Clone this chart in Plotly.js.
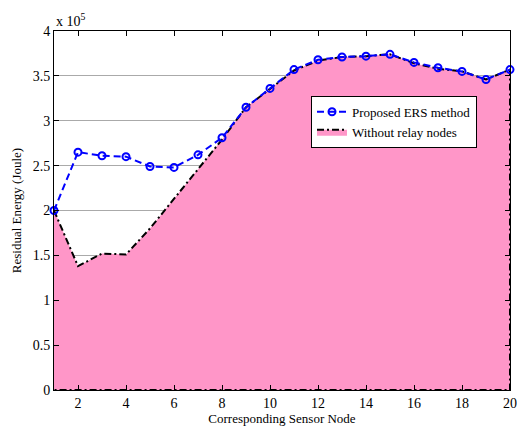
<!DOCTYPE html>
<html>
<head>
<meta charset="utf-8">
<script src="https://cdn.plot.ly/plotly-3.0.1.min.js"></script>
<style>html,body{margin:0;padding:0;background:#fff;}#chart{width:517px;height:428px;}</style>
</head>
<body>
<div id="chart"></div>
<script>
const nodes = [1,2,3,4,5,6,7,8,9,10,11,12,13,14,15,16,17,18,19,20];
const proposedERS = [2.00,2.65,2.61,2.60,2.49,2.48,2.62,2.81,3.15,3.36,3.57,3.68,3.71,3.72,3.74,3.65,3.59,3.55,3.46,3.57];
const withoutRelay = [2.00,1.38,1.52,1.51,1.80,2.13,2.47,2.79,3.15,3.36,3.56,3.67,3.71,3.72,3.74,3.64,3.58,3.55,3.46,3.57];
const yTicks = [0,0.5,1,1.5,2,2.5,3,3.5,4];
const xTicks = [2,4,6,8,10,12,14,16,18,20];

const areaX = nodes.concat([nodes[nodes.length-1], nodes[0]]);
const areaY = withoutRelay.concat([0, 0]);

const serif = 'Liberation Serif, Times New Roman, serif';

const data = [
  {
    x: areaX, y: areaY, type: 'scatter', mode: 'lines',
    fill: 'toself', fillcolor: '#FF96C8',
    line: {color: 'black', width: 2, dash: '7px,3px,2px,3px'},
    name: 'Without relay nodes', legendrank: 2, cliponaxis: false
  },
  {
    x: nodes, y: proposedERS, type: 'scatter', mode: 'lines+markers',
    line: {color: 'blue', width: 2, dash: '7px,4px'},
    marker: {symbol: 'circle-open', size: 7, color: 'blue', line: {width: 2, color: 'blue'}},
    name: 'Proposed ERS method', legendrank: 1, cliponaxis: false
  }
];

const layout = {
  width: 517, height: 428,
  margin: {l: 54, r: 7, t: 31, b: 38},
  paper_bgcolor: 'white', plot_bgcolor: 'white',
  font: {family: serif, color: 'black', size: 14},
  showlegend: true,
  legend: {
    x: 0.5636, y: 0.8194, xanchor: 'left', yanchor: 'top',
    bgcolor: 'white', bordercolor: 'black', borderwidth: 1,
    font: {family: serif, size: 13, color: 'black'},
    tracegroupgap: 0, itemwidth: 30
  },
  xaxis: {
    range: [1, 20], tickvals: xTicks, ticktext: xTicks.map(String),
    showgrid: false, zeroline: false,
    showline: true, linecolor: 'black', linewidth: 1, mirror: 'ticks',
    ticks: 'inside', ticklen: 5, tickcolor: 'black',
    tickfont: {family: serif, size: 14},
    title: {text: 'Corresponding Sensor Node', font: {family: serif, size: 13}, standoff: 2}
  },
  yaxis: {
    range: [0, 4], tickvals: yTicks, ticktext: yTicks.map(String),
    showgrid: true, gridcolor: '#aaaaaa', gridwidth: 1, zeroline: false,
    showline: true, linecolor: 'black', linewidth: 1, mirror: 'ticks',
    ticks: 'inside', ticklen: 5, tickcolor: 'black',
    tickfont: {family: serif, size: 14},
    title: {text: 'Residual Energy (Joule)', font: {family: serif, size: 13}, standoff: 8}
  },
  annotations: [{
    xref: 'paper', yref: 'paper', x: 0, y: 1, xanchor: 'left', yanchor: 'bottom',
    text: 'x 10<sup>5</sup>', showarrow: false, yshift: 0,
    font: {family: serif, size: 14, color: 'black'}
  }]
};

Plotly.newPlot('chart', data, layout, {displayModeBar: false, staticPlot: true});
</script>
</body>
</html>
